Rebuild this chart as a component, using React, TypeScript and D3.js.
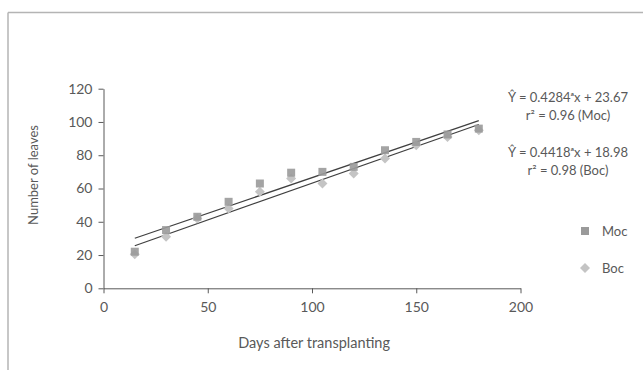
import { useEffect, useRef } from "react";
import * as d3 from "d3";

// days after transplanting
const days = [15, 30, 45, 60, 75, 90, 105, 120, 135, 150, 165, 180];
const mocLeaves = [22, 35, 43, 52, 63, 69.5, 70, 73, 83, 88, 92.5, 96];
const bocLeaves = [20.5, 31, 42, 48, 58, 66, 63, 69, 78, 86, 91, 95];

// regression fits [slope, intercept]
const mocFit = [0.4284, 23.67];
const bocFit = [0.4418, 18.98];

const xTicks = [0, 50, 100, 150, 200];
const yTicks = [0, 20, 40, 60, 80, 100, 120];

const W = 643;
const H = 370;
const FONT = "Lato, 'Open Sans', sans-serif";
const TXT = "#595959";

export default function App() {
  const svgRef = useRef<SVGSVGElement>(null);

  useEffect(() => {
    const svg = d3.select(svgRef.current);
    svg.selectAll("*").remove();

    // chart frame (only top & left visible in crop)
    svg.append("line").attr("x1", 8).attr("y1", 12.5).attr("x2", W).attr("y2", 12.5)
      .attr("stroke", "#b4b4b4").attr("stroke-width", 1.5);
    svg.append("line").attr("x1", 8).attr("y1", 12.5).attr("x2", 8).attr("y2", H)
      .attr("stroke", "#b4b4b4").attr("stroke-width", 1.5);

    const x = d3.scaleLinear().domain([0, 200]).range([103.5, 520.5]);
    const y = d3.scaleLinear().domain([0, 120]).range([288.3, 88.7]);

    const xAxis = d3.axisBottom(x).tickValues(xTicks).tickSize(5).tickSizeOuter(0);
    const yAxis = d3.axisLeft(y).tickValues(yTicks).tickSize(5).tickSizeOuter(0);

    const gx = svg.append("g").attr("transform", `translate(0,${y(0)})`).call(xAxis);
    const gy = svg.append("g").attr("transform", `translate(${x(0)},0)`).call(yAxis);
    [gx, gy].forEach((g) => {
      g.select(".domain").attr("stroke", "#595959");
      g.selectAll(".tick line").attr("stroke", "#595959");
      g.selectAll(".tick text")
        .attr("fill", TXT)
        .style("font-family", FONT)
        .style("font-size", "14px");
    });
    gx.selectAll(".tick text").attr("dy", "1.15em");
    gy.selectAll(".tick text").attr("x", -11);

    // axis titles
    svg.append("text")
      .attr("x", x(101)).attr("y", 348)
      .attr("text-anchor", "middle")
      .attr("fill", TXT).style("font-family", FONT).style("font-size", "14.5px")
      .text("Days after transplanting");
    svg.append("text")
      .attr("transform", "translate(38,175) rotate(-90)")
      .attr("text-anchor", "middle")
      .attr("fill", TXT).style("font-family", FONT).style("font-size", "13px")
      .text("Number of leaves");

    // trend lines
    [mocFit, bocFit].forEach(([m, b]) => {
      const xs = [days[0], days[days.length - 1]];
      svg.append("path")
        .attr("d", d3.line<number>().x((d) => x(d)).y((d) => y(m * d + b))(xs))
        .attr("fill", "none")
        .attr("stroke", "#404040")
        .attr("stroke-width", 1.2);
    });

    const sq = d3.symbol().type(d3.symbolSquare).size(64);
    const dm = d3.symbol().type(d3.symbolSquare).size(50);

    svg.append("g").selectAll("path").data(days).join("path")
      .attr("d", dm)
      .attr("transform", (d, i) => `translate(${x(d)},${y(bocLeaves[i])}) rotate(45)`)
      .attr("fill", "#c4c4c4");
    svg.append("g").selectAll("path").data(days).join("path")
      .attr("d", sq)
      .attr("transform", (d, i) => `translate(${x(d)},${y(mocLeaves[i])})`)
      .attr("fill", "#9a9a9a")
      .attr("fill-opacity", 0.9);

    // equations
    const eq = [
      { t: "Ŷ = 0.4284ᵃx + 23.67", y: 101.5 },
      { t: "r² = 0.96 (Moc)", y: 119.5 },
      { t: "Ŷ = 0.4418ᵃx + 18.98", y: 156.5 },
      { t: "r² = 0.98 (Boc)", y: 174.5 },
    ];
    svg.append("g").selectAll("text").data(eq).join("text")
      .attr("x", 568).attr("y", (d) => d.y)
      .attr("text-anchor", "middle")
      .attr("fill", TXT).style("font-family", FONT).style("font-size", "13px")
      .text((d) => d.t);

    // legend
    svg.append("path").attr("d", sq).attr("transform", "translate(585,231)").attr("fill", "#9a9a9a");
    svg.append("path").attr("d", dm).attr("transform", "translate(585,268) rotate(45)").attr("fill", "#c4c4c4");
    svg.append("text").attr("x", 602).attr("y", 235.5).attr("fill", TXT)
      .style("font-family", FONT).style("font-size", "13px").text("Moc");
    svg.append("text").attr("x", 602).attr("y", 272.5).attr("fill", TXT)
      .style("font-family", FONT).style("font-size", "13px").text("Boc");
  }, []);

  return (
    <svg
      ref={svgRef}
      width={W}
      height={H}
      style={{ position: "fixed", left: 0, top: 0, background: "#fff" }}
    />
  );
}
